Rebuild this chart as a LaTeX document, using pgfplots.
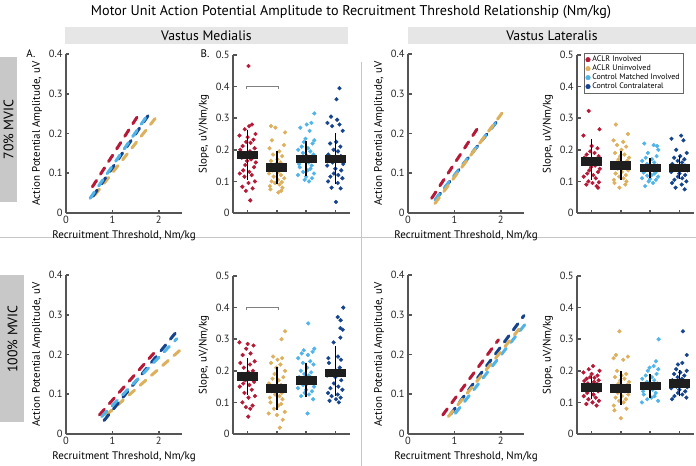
\documentclass[border=0pt]{standalone}
\usepackage{fontspec}
\setmainfont{PT Sans}
\usepackage{pgfplots}
\pgfplotsset{compat=1.18}

\definecolor{cRed}{RGB}{180,25,55}
\definecolor{cYel}{RGB}{221,176,94}
\definecolor{cLbl}{RGB}{80,180,232}
\definecolor{cDbl}{RGB}{22,68,140}
\definecolor{axc}{RGB}{85,85,85}
\definecolor{boxc}{RGB}{30,30,30}
\definecolor{hdr}{RGB}{230,230,230}
\definecolor{side}{RGB}{200,200,200}

\newcommand\fs[1]{\fontsize{#1}{#1}\selectfont}
% box: left, right, centre, whisker lo, whisker hi, box lo, box hi
\newcommand\bx[7]{%
  \addplot[black, line width=1.3bp] coordinates {(#3,#4) (#3,#5)};
  \addplot[draw=none, fill=boxc] coordinates {(#1,#6) (#2,#6) (#2,#7) (#1,#7)};
}

\pgfplotsset{
  base/.style={scale only axis, axis lines=left,
    axis line style={-, line width=2.4bp, color=axc},
    tick style={line width=1.6bp, color=axc}, major tick length=3.5bp,
    tick align=inside,
    tick label style={font=\fs{10.5}, text=black!85},
    label style={font=\fs{11}},
    clip=false, /pgf/number format/assume math mode=true},
  lin/.style={base, width=116bp, height=159bp,
    xmin=0, xmax=2.5, ymin=0, ymax=0.4, xtick={0,1,2},
    ytick={0,0.1,0.2,0.3,0.4}, yticklabels={0,0.1,0.2,0.3,0.4},
    xlabel={Recruitment Threshold, Nm/kg},
    ylabel={Action Potential Amplitude, uV}},
  slp/.style={base, width=117bp, height=158bp,
    xmin=0.5, xmax=4.5, ymin=0, ymax=0.5, xtick={1,2,3,4}, xticklabels={},
    ytick={0,0.1,0.2,0.3,0.4,0.5}, yticklabels={0,0.1,0.2,0.3,0.4,0.5},
    ylabel={Slope, uV/Nm/kg}},
  % second axis on the same frame, so that the boxes lie over the dots
  ovl/.style={scale only axis, width=117bp, height=158bp,
    xmin=0.5, xmax=4.5, ymin=0, ymax=0.5, hide axis, clip=false},
  ln/.style={line width=3bp, dash pattern=on 7.5bp off 7.5bp, line cap=round, forget plot},
  dots/.style={scatter, only marks, mark=*, mark size=1.9bp,
    point meta=explicit symbolic, forget plot,
    scatter/classes={1={mark=*,cRed},2={mark=*,cYel},3={mark=*,cLbl},4={mark=*,cDbl}}},
  brk/.style={gray, line width=0.8bp, forget plot},
}

\begin{document}
\begin{tikzpicture}
\useasboundingbox (0,0) rectangle (696bp,-466bp);

% decorations
\node[font=\fs{14.2}] at (351bp,-12bp) {Motor Unit Action Potential Amplitude to Recruitment Threshold Relationship (Nm/kg)};
\fill[hdr] (65bp,-27bp) rectangle (348bp,-44bp);
\fill[hdr] (408bp,-27bp) rectangle (696bp,-44bp);
\node[font=\fs{13.8}] at (206.5bp,-35.5bp) {Vastus Medialis};
\node[font=\fs{13.8}] at (552bp,-35.5bp) {Vastus Lateralis};
\fill[side] (0,-57bp) rectangle (17bp,-202bp);
\fill[side] (0,-275bp) rectangle (24bp,-422bp);
\node[font=\fs{13.8}, rotate=90] at (8.5bp,-129.5bp) {70\% MVIC};
\node[font=\fs{13.8}, rotate=90] at (12.5bp,-339bp) {100\% MVIC};
\draw[gray!45, line width=0.7bp] (0,-237bp) -- (696bp,-237bp);
\draw[gray!45, line width=0.7bp] (361bp,-62bp) -- (361bp,-466bp);
\node[font=\fs{11}] at (31bp,-54bp) {A.};
\node[font=\fs{11}] at (205bp,-54bp) {B.};

% ---------- row 1: 70% MVIC ----------
\begin{axis}[lin, at={(66bp,-213bp)}, anchor=south west]
  \addplot[ln, cYel] coordinates {(0.62,0.045) (1.95,0.242)};
  \addplot[ln, cRed] coordinates {(0.57,0.066) (1.53,0.241)};
  \addplot[ln, cDbl] coordinates {(0.58,0.042) (1.84,0.257)};
  \addplot[ln, cLbl] coordinates {(0.52,0.037) (1.76,0.247)};
\end{axis}

\begin{axis}[slp, at={(233bp,-213bp)}, anchor=south west]
  \addplot[dots] table[row sep=\\, x expr=\thisrow{g}+\thisrow{j}, y=y, meta=g] {
  g j y\\
  1 0.03 0.465\\ 1 0.15 0.280\\ 1 0.05 0.275\\ 1 -0.10 0.265\\ 1 0.27 0.250\\ 1 -0.28 0.245\\ 1 0.00 0.240\\ 1 0.20 0.232\\ 1 -0.05 0.225\\ 1 0.10 0.222\\ 1 -0.17 0.212\\ 1 0.24 0.205\\
  1 -0.25 0.200\\ 1 0.08 0.195\\ 1 -0.13 0.190\\ 1 0.18 0.185\\ 1 0.02 0.180\\ 1 -0.20 0.175\\ 1 0.12 0.170\\ 1 -0.02 0.165\\ 1 0.28 0.160\\ 1 -0.08 0.152\\ 1 0.22 0.145\\ 1 -0.15 0.135\\
  1 0.06 0.130\\ 1 -0.27 0.125\\ 1 0.14 0.120\\ 1 -0.11 0.115\\ 1 0.25 0.100\\ 1 0.03 0.095\\ 1 -0.18 0.083\\ 1 0.17 0.078\\ 1 -0.06 0.070\\ 1 0.09 0.040\\
  2 -0.20 0.275\\ 2 -0.05 0.270\\ 2 0.28 0.255\\ 2 -0.17 0.230\\ 2 0.24 0.215\\ 2 -0.25 0.205\\ 2 0.08 0.195\\ 2 -0.13 0.185\\ 2 0.18 0.180\\ 2 0.02 0.170\\ 2 -0.20 0.165\\ 2 0.12 0.160\\
  2 -0.02 0.155\\ 2 0.28 0.150\\ 2 -0.08 0.145\\ 2 0.22 0.140\\ 2 -0.15 0.135\\ 2 0.06 0.130\\ 2 -0.27 0.125\\ 2 0.14 0.120\\ 2 -0.11 0.115\\ 2 0.25 0.110\\ 2 0.03 0.105\\ 2 -0.18 0.100\\
  2 0.17 0.098\\ 2 -0.06 0.095\\ 2 0.09 0.090\\ 2 -0.24 0.085\\ 2 0.19 0.080\\ 2 -0.22 0.075\\ 2 0.15 0.070\\ 2 0.05 0.065\\
  3 0.28 0.315\\ 3 0.18 0.285\\ 3 0.02 0.280\\ 3 -0.20 0.270\\ 3 0.12 0.260\\ 3 -0.02 0.235\\ 3 0.28 0.230\\ 3 -0.08 0.225\\ 3 0.22 0.220\\ 3 -0.15 0.210\\ 3 0.06 0.205\\ 3 -0.27 0.200\\
  3 0.14 0.195\\ 3 -0.11 0.190\\ 3 0.25 0.185\\ 3 0.03 0.180\\ 3 -0.18 0.175\\ 3 0.17 0.170\\ 3 -0.06 0.165\\ 3 0.09 0.160\\ 3 -0.24 0.155\\ 3 0.19 0.150\\ 3 -0.22 0.145\\ 3 0.15 0.140\\
  3 0.05 0.135\\ 3 -0.10 0.130\\ 3 0.27 0.125\\ 3 -0.28 0.120\\ 3 0.00 0.115\\ 3 0.20 0.110\\ 3 -0.05 0.105\\ 3 0.10 0.100\\
  4 0.14 0.395\\ 4 0.04 0.360\\ 4 -0.15 0.305\\ 4 0.06 0.295\\ 4 -0.27 0.285\\ 4 0.14 0.280\\ 4 -0.11 0.275\\ 4 0.25 0.260\\ 4 0.03 0.225\\ 4 -0.18 0.220\\ 4 0.17 0.210\\ 4 -0.06 0.200\\
  4 0.09 0.195\\ 4 -0.24 0.185\\ 4 0.19 0.180\\ 4 -0.22 0.175\\ 4 0.15 0.170\\ 4 0.05 0.165\\ 4 -0.10 0.160\\ 4 0.27 0.155\\ 4 -0.28 0.150\\ 4 0.00 0.140\\ 4 0.20 0.135\\ 4 -0.05 0.125\\
  4 0.10 0.120\\ 4 -0.17 0.115\\ 4 0.24 0.110\\ 4 -0.25 0.100\\ 4 0.08 0.095\\ 4 -0.13 0.080\\ 4 0.18 0.078\\ 4 0.02 0.035\\
  };
  \addplot[brk] coordinates {(0.95,0.393) (0.95,0.401) (2.05,0.401) (2.05,0.393)};
\end{axis}
\begin{axis}[ovl, at={(233bp,-213bp)}, anchor=south west]
  \bx{0.64}{1.36}{1}{0.105}{0.263}{0.170}{0.197}
  \bx{1.64}{2.36}{2}{0.091}{0.196}{0.129}{0.158}
  \bx{2.64}{3.36}{3}{0.116}{0.228}{0.158}{0.184}
  \bx{3.64}{4.36}{4}{0.092}{0.252}{0.158}{0.184}
\end{axis}

\begin{axis}[lin, at={(408bp,-213bp)}, anchor=south west]
  \addplot[ln, cRed] coordinates {(0.51,0.037) (1.51,0.215)};
  \addplot[ln, cDbl] coordinates {(0.60,0.035) (1.94,0.234)};
  \addplot[ln, cLbl] coordinates {(0.58,0.033) (1.91,0.230)};
  \addplot[ln, cYel] coordinates {(0.58,0.024) (2.05,0.255)};
\end{axis}

\begin{axis}[slp, at={(577bp,-213bp)}, anchor=south west,
  legend style={at={(0.06,1.012)}, anchor=north west, font=\fs{8},
    draw=black!60, inner xsep=1.5pt, inner ysep=0.8pt, row sep=-2.2pt,
    legend cell align=left}]
  \addlegendimage{only marks, mark=*, mark size=2.3bp, cRed}
  \addlegendentry{ACLR Involved}
  \addlegendimage{only marks, mark=*, mark size=2.3bp, cYel}
  \addlegendentry{ACLR Uninvolved}
  \addlegendimage{only marks, mark=*, mark size=2.3bp, cLbl}
  \addlegendentry{Control Matched Involved}
  \addlegendimage{only marks, mark=*, mark size=2.3bp, cDbl}
  \addlegendentry{Control Contralateral}
  \addplot[dots] table[row sep=\\, x expr=\thisrow{g}+\thisrow{j}, y=y, meta=g] {
  g j y\\
  1 -0.10 0.323\\ 1 0.27 0.265\\ 1 -0.28 0.245\\ 1 0.00 0.212\\ 1 0.20 0.205\\ 1 -0.05 0.195\\ 1 0.10 0.190\\ 1 -0.17 0.185\\ 1 0.24 0.180\\ 1 -0.25 0.175\\ 1 0.08 0.170\\ 1 -0.13 0.165\\
  1 0.18 0.162\\ 1 0.02 0.158\\ 1 -0.20 0.155\\ 1 0.12 0.150\\ 1 -0.02 0.145\\ 1 0.28 0.140\\ 1 -0.08 0.135\\ 1 0.22 0.130\\ 1 -0.15 0.125\\ 1 0.06 0.120\\ 1 -0.27 0.115\\ 1 0.14 0.110\\
  1 -0.11 0.100\\ 1 0.25 0.097\\ 1 0.03 0.095\\ 1 -0.18 0.090\\ 1 0.17 0.085\\ 1 0.22 0.080\\
  2 -0.17 0.280\\ 2 0.24 0.250\\ 2 -0.25 0.230\\ 2 0.08 0.225\\ 2 -0.13 0.215\\ 2 0.18 0.210\\ 2 0.02 0.200\\ 2 -0.20 0.190\\ 2 0.12 0.185\\ 2 -0.02 0.180\\ 2 0.28 0.175\\ 2 -0.08 0.170\\
  2 0.22 0.165\\ 2 -0.15 0.160\\ 2 0.06 0.155\\ 2 -0.27 0.150\\ 2 0.14 0.145\\ 2 -0.11 0.140\\ 2 0.25 0.135\\ 2 0.03 0.130\\ 2 -0.18 0.125\\ 2 0.17 0.120\\ 2 -0.06 0.115\\ 2 0.09 0.110\\
  2 -0.24 0.105\\ 2 0.19 0.100\\ 2 -0.22 0.095\\ 2 0.15 0.090\\ 2 -0.05 0.080\\
  3 -0.20 0.220\\ 3 0.12 0.215\\ 3 0.24 0.212\\ 3 0.28 0.200\\ 3 -0.08 0.190\\ 3 0.22 0.180\\ 3 -0.15 0.175\\ 3 0.06 0.170\\ 3 -0.27 0.165\\ 3 0.14 0.160\\ 3 -0.11 0.155\\ 3 0.25 0.150\\
  3 0.03 0.148\\ 3 -0.18 0.145\\ 3 0.17 0.142\\ 3 -0.06 0.140\\ 3 0.09 0.138\\ 3 -0.24 0.135\\ 3 0.19 0.130\\ 3 -0.22 0.128\\ 3 0.15 0.125\\ 3 0.05 0.120\\ 3 -0.10 0.118\\ 3 0.27 0.115\\
  3 -0.28 0.110\\ 3 0.00 0.108\\ 3 0.20 0.105\\ 3 -0.05 0.100\\ 3 0.10 0.095\\ 3 -0.17 0.085\\
  4 0.06 0.245\\ 4 -0.27 0.235\\ 4 0.14 0.230\\ 4 -0.11 0.200\\ 4 0.25 0.190\\ 4 0.03 0.180\\ 4 -0.18 0.175\\ 4 0.17 0.170\\ 4 -0.06 0.165\\ 4 0.09 0.160\\ 4 -0.24 0.155\\ 4 0.19 0.150\\
  4 -0.22 0.148\\ 4 0.15 0.145\\ 4 0.05 0.140\\ 4 -0.10 0.138\\ 4 0.27 0.135\\ 4 -0.28 0.130\\ 4 0.00 0.125\\ 4 0.20 0.120\\ 4 -0.05 0.115\\ 4 0.10 0.110\\ 4 -0.17 0.105\\ 4 0.24 0.100\\
  4 -0.25 0.095\\ 4 0.08 0.090\\ 4 -0.13 0.080\\ 4 0.18 0.075\\
  };
\end{axis}
\begin{axis}[ovl, at={(577bp,-213bp)}, anchor=south west]
  \bx{0.64}{1.36}{1}{0.105}{0.234}{0.149}{0.177}
  \bx{1.64}{2.36}{2}{0.105}{0.197}{0.137}{0.165}
  \bx{2.64}{3.36}{3}{0.110}{0.174}{0.130}{0.156}
  \bx{3.64}{4.36}{4}{0.107}{0.179}{0.130}{0.156}
\end{axis}

% ---------- row 2: 100% MVIC ----------
\begin{axis}[lin, at={(66bp,-434bp)}, anchor=south west]
  \addplot[ln, cYel] coordinates {(0.87,0.048) (2.45,0.210)};
  \addplot[ln, cRed] coordinates {(0.72,0.048) (1.89,0.203)};
  \addplot[ln, cDbl] coordinates {(0.82,0.034) (2.42,0.263)};
  \addplot[ln, cLbl] coordinates {(0.77,0.044) (2.39,0.240)};
\end{axis}

\begin{axis}[slp, at={(233bp,-434bp)}, anchor=south west]
  \addplot[dots] table[row sep=\\, x expr=\thisrow{g}+\thisrow{j}, y=y, meta=g] {
  g j y\\
  1 -0.28 0.290\\ 1 0.00 0.285\\ 1 0.20 0.280\\ 1 -0.05 0.270\\ 1 0.10 0.255\\ 1 -0.17 0.250\\ 1 0.24 0.230\\ 1 -0.25 0.225\\ 1 0.08 0.220\\ 1 -0.13 0.210\\ 1 0.18 0.200\\ 1 0.02 0.195\\
  1 -0.20 0.190\\ 1 0.12 0.185\\ 1 -0.02 0.180\\ 1 0.28 0.175\\ 1 -0.08 0.170\\ 1 0.22 0.165\\ 1 -0.15 0.160\\ 1 0.06 0.155\\ 1 -0.27 0.150\\ 1 0.14 0.140\\ 1 -0.11 0.130\\ 1 0.25 0.120\\
  1 0.03 0.115\\ 1 -0.18 0.100\\ 1 0.17 0.090\\ 1 -0.06 0.085\\ 1 0.09 0.080\\ 1 0.02 0.055\\
  2 0.28 0.325\\ 2 0.16 0.300\\ 2 -0.13 0.245\\ 2 0.18 0.240\\ 2 0.02 0.235\\ 2 -0.20 0.225\\ 2 0.12 0.220\\ 2 -0.02 0.210\\ 2 0.28 0.200\\ 2 -0.08 0.190\\ 2 0.22 0.180\\ 2 -0.15 0.175\\
  2 0.06 0.170\\ 2 -0.27 0.160\\ 2 0.14 0.155\\ 2 -0.11 0.150\\ 2 0.25 0.145\\ 2 0.03 0.140\\ 2 -0.18 0.135\\ 2 0.17 0.130\\ 2 -0.06 0.125\\ 2 0.09 0.120\\ 2 -0.24 0.115\\ 2 0.19 0.110\\
  2 -0.22 0.100\\ 2 0.15 0.095\\ 2 0.05 0.090\\ 2 -0.10 0.080\\ 2 0.27 0.070\\ 2 -0.28 0.065\\ 2 0.00 0.060\\ 2 0.20 0.045\\ 2 0.10 0.020\\
  3 0.07 0.350\\ 3 0.28 0.270\\ 3 -0.08 0.265\\ 3 0.22 0.260\\ 3 -0.15 0.255\\ 3 0.06 0.250\\ 3 -0.27 0.240\\ 3 0.14 0.230\\ 3 -0.11 0.225\\ 3 0.25 0.220\\ 3 0.03 0.210\\ 3 -0.18 0.200\\
  3 0.17 0.195\\ 3 -0.06 0.190\\ 3 0.09 0.185\\ 3 -0.24 0.180\\ 3 0.19 0.175\\ 3 -0.22 0.170\\ 3 0.15 0.165\\ 3 0.05 0.160\\ 3 -0.10 0.155\\ 3 0.27 0.150\\ 3 -0.28 0.145\\ 3 0.00 0.140\\
  3 0.20 0.135\\ 3 -0.05 0.130\\ 3 0.10 0.125\\ 3 -0.17 0.120\\ 3 0.24 0.110\\ 3 0.05 0.065\\
  4 0.27 0.400\\ 4 0.08 0.370\\ 4 0.18 0.360\\ 4 0.17 0.335\\ 4 0.25 0.330\\ 4 0.17 0.305\\ 4 -0.06 0.290\\ 4 0.09 0.245\\ 4 -0.24 0.240\\ 4 0.19 0.235\\ 4 -0.22 0.225\\ 4 0.15 0.210\\
  4 0.05 0.200\\ 4 -0.10 0.195\\ 4 0.27 0.190\\ 4 -0.28 0.185\\ 4 0.00 0.180\\ 4 0.20 0.170\\ 4 -0.05 0.160\\ 4 0.10 0.150\\ 4 -0.17 0.145\\ 4 0.24 0.140\\ 4 -0.25 0.130\\ 4 0.08 0.125\\
  4 -0.13 0.120\\ 4 0.18 0.115\\ 4 0.02 0.110\\ 4 -0.20 0.105\\ 4 0.12 0.100\\
  };
  \addplot[brk] coordinates {(0.95,0.393) (0.95,0.400) (2.05,0.400) (2.05,0.393)};
\end{axis}
\begin{axis}[ovl, at={(233bp,-434bp)}, anchor=south west]
  \bx{0.64}{1.36}{1}{0.124}{0.242}{0.169}{0.195}
  \bx{1.64}{2.36}{2}{0.077}{0.213}{0.131}{0.159}
  \bx{2.64}{3.36}{3}{0.116}{0.224}{0.155}{0.184}
  \bx{3.64}{4.36}{4}{0.119}{0.278}{0.180}{0.207}
\end{axis}

\begin{axis}[lin, at={(408bp,-434bp)}, anchor=south west]
  \addplot[ln, cRed] coordinates {(0.75,0.048) (1.95,0.237)};
  \addplot[ln, cDbl] coordinates {(0.92,0.050) (2.50,0.298)};
  \addplot[ln, cLbl] coordinates {(1.02,0.052) (2.55,0.280)};
  \addplot[ln, cYel] coordinates {(0.87,0.044) (2.47,0.275)};
\end{axis}

\begin{axis}[slp, at={(577bp,-434bp)}, anchor=south west]
  \addplot[dots] table[row sep=\\, x expr=\thisrow{g}+\thisrow{j}, y=y, meta=g] {
  g j y\\
  1 0.05 0.215\\ 1 -0.10 0.205\\ 1 0.27 0.200\\ 1 -0.28 0.195\\ 1 0.00 0.190\\ 1 0.20 0.185\\ 1 -0.05 0.180\\ 1 0.10 0.178\\ 1 -0.17 0.175\\ 1 0.24 0.170\\ 1 -0.25 0.168\\ 1 0.08 0.165\\
  1 -0.13 0.160\\ 1 0.18 0.158\\ 1 0.02 0.155\\ 1 -0.20 0.152\\ 1 0.12 0.150\\ 1 -0.02 0.145\\ 1 0.28 0.142\\ 1 -0.08 0.140\\ 1 0.22 0.135\\ 1 -0.15 0.130\\ 1 0.06 0.125\\ 1 -0.27 0.120\\
  1 0.14 0.115\\ 1 -0.11 0.110\\ 1 0.25 0.105\\ 1 0.03 0.100\\ 1 -0.18 0.095\\ 1 0.17 0.090\\
  2 -0.05 0.325\\ 2 -0.17 0.250\\ 2 0.24 0.245\\ 2 -0.25 0.240\\ 2 0.08 0.235\\ 2 -0.13 0.200\\ 2 0.18 0.190\\ 2 0.02 0.185\\ 2 -0.20 0.180\\ 2 0.12 0.175\\ 2 -0.02 0.170\\ 2 0.28 0.165\\
  2 -0.08 0.160\\ 2 0.22 0.155\\ 2 -0.15 0.150\\ 2 0.06 0.145\\ 2 -0.27 0.140\\ 2 0.14 0.135\\ 2 -0.11 0.130\\ 2 0.25 0.125\\ 2 0.03 0.120\\ 2 -0.18 0.115\\ 2 0.17 0.110\\ 2 -0.06 0.105\\
  2 0.09 0.100\\ 2 -0.24 0.090\\ 2 0.19 0.080\\ 2 -0.22 0.075\\ 2 0.00 0.050\\
  3 0.29 0.300\\ 3 0.20 0.230\\ 3 0.12 0.215\\ 3 -0.02 0.210\\ 3 0.28 0.205\\ 3 -0.08 0.200\\ 3 0.22 0.190\\ 3 -0.15 0.185\\ 3 0.06 0.180\\ 3 -0.27 0.175\\ 3 0.14 0.170\\ 3 -0.11 0.165\\
  3 0.25 0.160\\ 3 0.03 0.155\\ 3 -0.18 0.150\\ 3 0.17 0.148\\ 3 -0.06 0.145\\ 3 0.09 0.140\\ 3 -0.24 0.135\\ 3 0.19 0.130\\ 3 -0.22 0.125\\ 3 0.15 0.120\\ 3 0.05 0.115\\ 3 -0.10 0.110\\
  3 0.27 0.105\\ 3 -0.28 0.100\\
  4 0.12 0.325\\ 4 0.25 0.250\\ 4 0.10 0.225\\ 4 -0.05 0.220\\ 4 -0.11 0.205\\ 4 0.25 0.200\\ 4 0.03 0.195\\ 4 -0.18 0.190\\ 4 0.17 0.185\\ 4 -0.06 0.180\\ 4 0.09 0.175\\ 4 -0.24 0.170\\
  4 0.19 0.168\\ 4 -0.22 0.165\\ 4 0.15 0.160\\ 4 0.05 0.155\\ 4 -0.10 0.150\\ 4 0.27 0.148\\ 4 -0.28 0.145\\ 4 0.00 0.140\\ 4 0.20 0.135\\ 4 -0.05 0.130\\ 4 0.10 0.125\\ 4 -0.17 0.120\\
  4 0.24 0.115\\ 4 -0.25 0.110\\
  };
\end{axis}
\begin{axis}[ovl, at={(577bp,-434bp)}, anchor=south west]
  \bx{0.64}{1.36}{1}{0.110}{0.184}{0.134}{0.161}
  \bx{1.64}{2.36}{2}{0.092}{0.200}{0.131}{0.159}
  \bx{2.64}{3.36}{3}{0.113}{0.190}{0.138}{0.164}
  \bx{3.64}{4.36}{4}{0.119}{0.203}{0.146}{0.174}
\end{axis}
\end{tikzpicture}
\end{document}
